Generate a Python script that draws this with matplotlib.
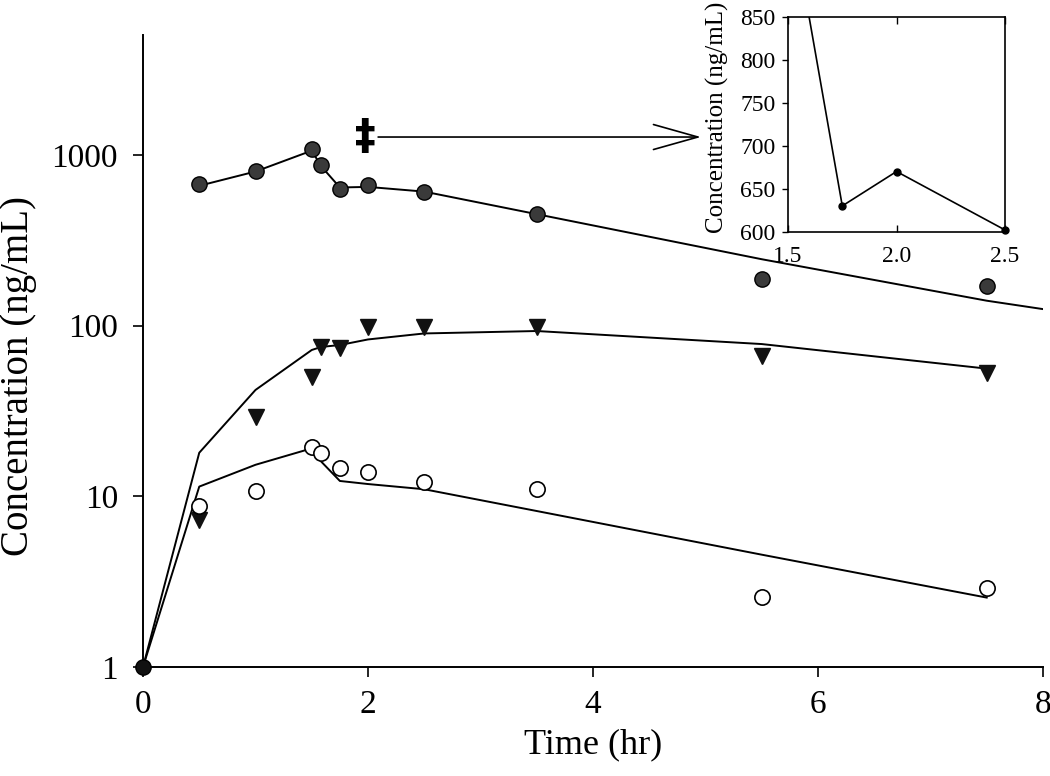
import numpy as np
import matplotlib
matplotlib.use('Agg')
import matplotlib.pyplot as plt

plt.rcParams['font.family'] = ['Liberation Serif', 'DejaVu Serif']

# observed concentrations (ng/mL) vs time (hr)
t_obs = [0.5, 1.0, 1.5, 1.583, 1.75, 2.0, 2.5, 3.5, 5.5, 7.5]
parent_obs = [676, 805, 1083, 870, 635, 670, 606, 450, 187, 171]
metab1_obs = [7.3, 29, 50, 75, 74, 98, 98, 98, 66, 53]
metab2_obs = [8.8, 10.7, 19.4, 17.9, 14.7, 13.8, 12.2, 11.0, 2.58, 2.89]

# model fits
t_fit_parent = [0.5, 1.0, 1.5, 1.583, 1.75, 2.0, 2.5, 3.5, 5.5, 7.5, 8.0]
parent_fit = [660, 800, 1060, 860, 645, 650, 610, 450, 245, 140, 125]
t_fit = [0, 0.5, 1.0, 1.5, 1.583, 1.75, 2.0, 2.5, 3.5, 5.5, 7.5]
metab1_fit = [1, 18, 42, 72, 75, 77, 83, 90, 93, 78, 56]
metab2_fit = [1, 11.4, 15.3, 19.1, 16.0, 12.3, 11.8, 11.0, 8.2, 4.55, 2.55]

# inset (zoom of parent between 1.5 and 2.5 hr)
t_inset = [1.5, 1.583, 1.75, 2.0, 2.5]
c_inset = [1083, 870, 630, 670, 602]

fig = plt.figure(figsize=(10.5, 7.76), dpi=100)
ax = fig.add_axes([0.1362, 0.1405, 0.8571, 0.8144])

lw = 1.4
ax.plot(t_fit_parent, parent_fit, 'k-', lw=lw)
ax.plot(t_fit, metab1_fit, 'k-', lw=lw)
ax.plot(t_fit, metab2_fit, 'k-', lw=lw)

ax.plot(t_obs, parent_obs, 'o', ms=11, mfc='#3a3a3a', mec='k', mew=1.0)
ax.plot(t_obs, metab1_obs, 'v', ms=11, mfc='#111111', mec='#111111')
ax.plot(t_obs, metab2_obs, 'o', ms=11, mfc='white', mec='k', mew=1.2)
ax.plot([0], [1], 'o', ms=11, mfc='#111111', mec='k', clip_on=False, zorder=5)

ax.set_yscale('log')
ax.set_xlim(0, 8)
ax.set_ylim(1, 10**3.703)
ax.set_xticks([0, 2, 4, 6, 8])
ax.set_yticks([1, 10, 100, 1000])
ax.set_yticklabels(['1', '10', '100', '1000'])
ax.yaxis.set_minor_locator(matplotlib.ticker.NullLocator())
ax.tick_params(axis='both', which='major', labelsize=24, length=7, width=1.2,
               direction='out')
ax.tick_params(axis='y', pad=11)
ax.tick_params(axis='x', pad=9)
for s in ['top', 'right']:
    ax.spines[s].set_visible(False)
for s in ['left', 'bottom']:
    ax.spines[s].set_linewidth(1.4)
ax.set_xlabel('Time (hr)', fontsize=26, labelpad=6)
ax.set_ylabel('Concentration (ng/mL)', fontsize=28)
ax.yaxis.set_label_coords(-0.118, 0.46)

# double dagger and arrow pointing to inset
ax.text(1.973, 1274, '\u2021', fontsize=30, fontweight='bold', family='DejaVu Sans',
        ha='center', va='center')
ax.annotate('', xy=(4.96, 1274), xytext=(2.09, 1274),
            arrowprops=dict(arrowstyle='->, head_length=3.2, head_width=0.9',
                            lw=1.2, color='k', mutation_scale=10,
                            shrinkA=0, shrinkB=0))

# inset
axi = fig.add_axes([0.7505, 0.7014, 0.2067, 0.2771])
axi.plot(t_inset, c_inset, 'k-', lw=1.2)
t_in = np.array(t_inset)
c_in = np.array(c_inset)
vis = c_in <= 850
axi.plot(t_in[vis], c_in[vis], 'o', ms=5, color='k', clip_on=False, zorder=5)
axi.set_xlim(1.5, 2.5)
axi.set_ylim(600, 850)
axi.set_xticks([1.5, 2.0, 2.5])
axi.set_xticklabels(['1.5', '2.0', '2.5'])
axi.set_yticks([600, 650, 700, 750, 800, 850])
axi.tick_params(axis='x', direction='in', top=True, labelsize=17, length=5, width=1.0, pad=10)
axi.tick_params(axis='y', direction='out', labelsize=17, length=4, width=1.0, pad=5)
for s in axi.spines.values():
    s.set_linewidth(1.2)
axi.set_ylabel('Concentration (ng/mL)', fontsize=18)
axi.yaxis.set_label_coords(-0.27, 0.53)

fig.savefig('out.png', dpi=100)
